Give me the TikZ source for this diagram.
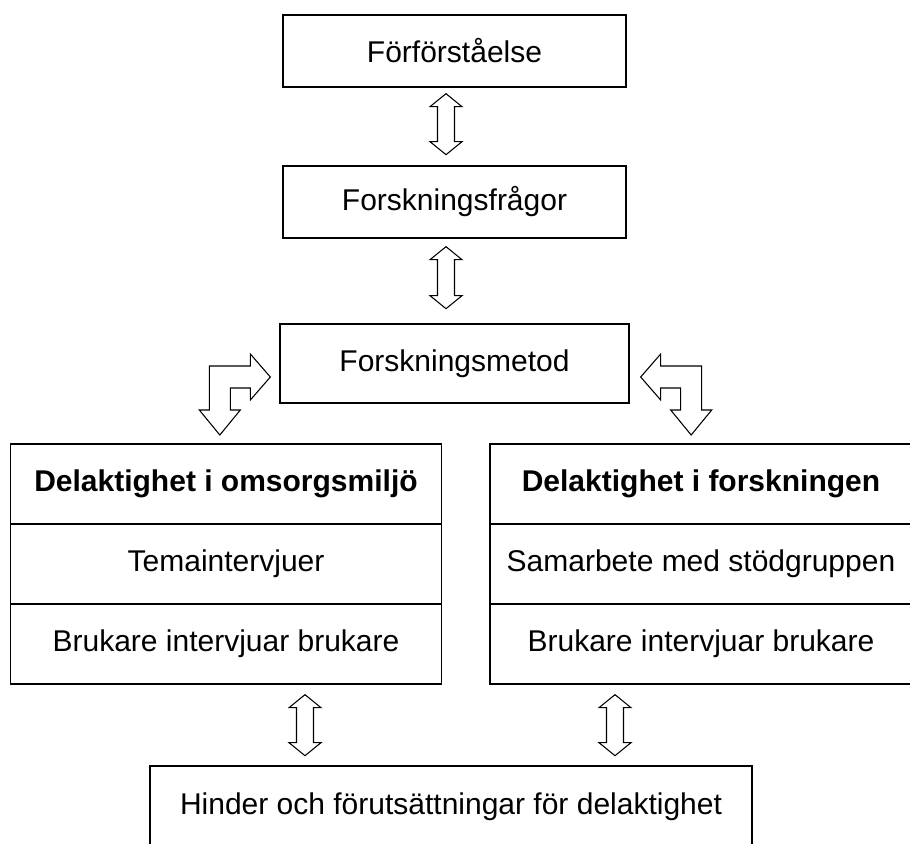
\documentclass[tikz,border=0pt]{standalone}
\usepackage{fontspec}
\setmainfont{Liberation Sans}
\usetikzlibrary{calc}

\tikzset{
  box/.style={draw, line width=1pt, inner sep=0pt, font=\fontsize{22.5}{27}\selectfont},
  cellA/.style={box, minimum width=323.25pt, minimum height=60pt},
  cellB/.style={box, minimum width=316.5pt, minimum height=60pt},
  blockarrow/.style={draw, line width=0.8pt, fill=white, line join=miter},
}

% hollow up/down arrow: top tip, length
\newcommand{\dblarrow}[2]{%
  \draw[blockarrow] (#1) -- ++(16,13) -- ++(-7.5,0) -- ++(0,#2-26) -- ++(7.5,0)
    -- ++(-16,13) -- ++(-16,-13) -- ++(7.5,0) -- ++(0,26-#2) -- ++(-7.5,0) -- cycle;}

% hollow bent arrow: tip at box side, direction (1 = points right)
\newcommand{\bentarrow}[2]{%
  \draw[blockarrow] (#1) -- ++(-20*#2,-23) -- ++(0,12) -- ++(-41*#2,0) -- ++(0,44)
    -- ++(-10*#2,0) -- ++(20.5*#2,25) -- ++(20.5*#2,-25) -- ++(-10*#2,0)
    -- ++(0,-22) -- ++(20*#2,0) -- ++(0,12) -- cycle;}

\begin{document}
\begin{tikzpicture}[x=0.75pt, y=-0.75pt]
  \useasboundingbox (0,0) rectangle (910,843);

  % top column
  \node[box, minimum width=257.25pt, minimum height=54pt] (pre) at (454.5,51) {Förförståelse};
  \node[box, minimum width=257.25pt, minimum height=54pt] (fragor) at (454.5,202) {Forskningsfrågor};
  \node[box, minimum width=261.75pt, minimum height=59.25pt] (metod) at (454.5,363.5) {Forskningsmetod};

  % left block
  \node[cellA] (delA) at (226,484) {\bfseries Delaktighet i omsorgsmiljö};
  \node[cellA] (temaA) at (226,564) {Temaintervjuer};
  \node[cellA] (brukA) at (226,644) {Brukare intervjuar brukare};

  % right block
  \node[cellB] (delB) at (701,484) {\bfseries Delaktighet i forskningen};
  \node[cellB] (samB) at (701,564) {Samarbete med stödgruppen};
  \node[cellB] (brukB) at (701,644) {Brukare intervjuar brukare};

  \node[box, minimum width=451.5pt, minimum height=61.5pt] (hinder) at (451,807) {Hinder och förutsättningar för delaktighet};

  % arrows
  \coordinate (a1) at ($(pre.south)+(-8.5,6)$);
  \coordinate (a2) at ($(fragor.south)+(-8.5,8)$);
  \coordinate (a3) at ($(brukA.south)+(79,10)$);
  \coordinate (a4) at ($(brukB.south)+(-86,10)$);
  \coordinate (bl) at ($(metod.west)+(-9,13.5)$);
  \coordinate (br) at ($(metod.east)+(11,13.5)$);

  \dblarrow{a1}{61}
  \dblarrow{a2}{62}
  \dblarrow{a3}{61}
  \dblarrow{a4}{61}
  \bentarrow{bl}{1}
  \bentarrow{br}{-1}
\end{tikzpicture}
\end{document}
